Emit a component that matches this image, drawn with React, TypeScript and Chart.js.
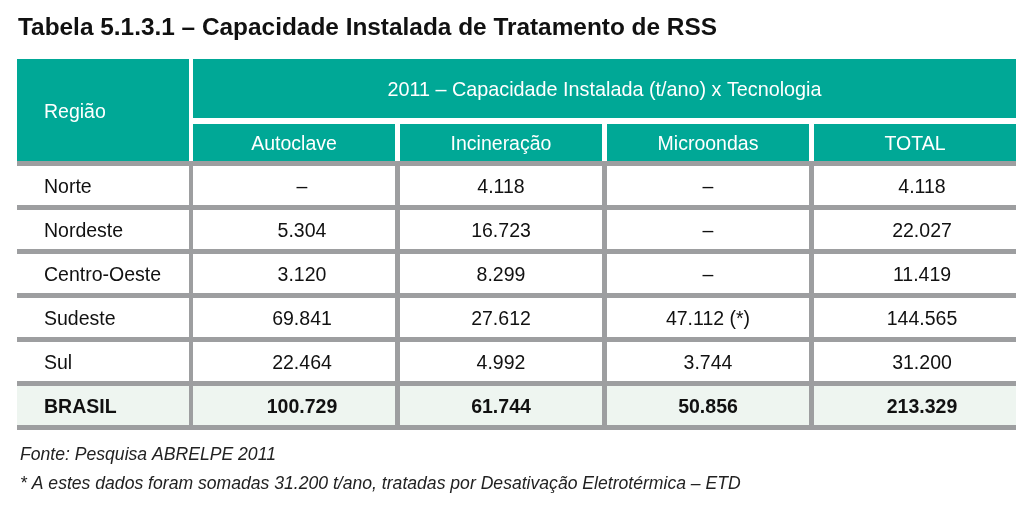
import React, { useEffect, useRef } from 'react';
import { Chart, registerables } from 'chart.js';

Chart.register(...registerables);

// ---------- content ----------
const title = 'Tabela 5.1.3.1 – Capacidade Instalada de Tratamento de RSS';
const groupHeader = '2011 – Capacidade Instalada (t/ano) x Tecnologia';
const regionHeader = 'Região';
const technologies = ['Autoclave', 'Incineração', 'Microondas', 'TOTAL'];
const regions = ['Norte', 'Nordeste', 'Centro-Oeste', 'Sudeste', 'Sul'];
const autoclave: (number | null)[] = [null, 5304, 3120, 69841, 22464];
const incineracao: (number | null)[] = [4118, 16723, 8299, 27612, 4992];
const microondas: (number | null)[] = [null, null, null, 47112, 3744];
const total: (number | null)[] = [4118, 22027, 11419, 144565, 31200];
const microondasNotes = ['', '', '', ' (*)', ''];
const brasilLabel = 'BRASIL';
const brasil = [100729, 61744, 50856, 213329];
const footnotes = [
  'Fonte: Pesquisa ABRELPE 2011',
  '* A estes dados foram somadas 31.200 t/ano, tratadas por Desativação Eletrotérmica – ETD',
];

// ---------- layout (in scale units) ----------
const W = 1016;
const H = 506;
const COLS: [number, number][] = [
  [17, 189],
  [193, 395],
  [400, 602],
  [607, 809],
  [814, 1016],
];
const DATA_CENTERS = [302, 501, 708, 922];
const HEADER_TOP = 59;
const HEADER1_BOTTOM = 118;
const HEADER2_TOP = 124;
const LINE_TOP = 161;
const LINE_W = 5;
const ROW_PITCH = 44;

const TEAL = '#00a896';
const GRAY = '#9d9ea0';
const BRASIL_BG = '#eef5f0';
const FONT = '"Liberation Sans", Arial, Helvetica, sans-serif';

const fmt = (n: number | null) =>
  n === null ? '–' : String(n).replace(/\B(?=(\d{3})+(?!\d))/g, '.');

const tablePlugin = {
  id: 'tablePlugin',
  afterDraw(chart: any) {
    const ctx: CanvasRenderingContext2D = chart.ctx;
    const xs = chart.scales.x;
    const ys = chart.scales.y;
    const px = (v: number) => xs.getPixelForValue(v);
    const py = (v: number) => ys.getPixelForValue(v);
    const rect = (x0: number, y0: number, x1: number, y1: number, color: string) => {
      ctx.fillStyle = color;
      const a = px(x0), b = py(y0), c = px(x1), d = py(y1);
      ctx.fillRect(Math.min(a, c), Math.min(b, d), Math.abs(c - a), Math.abs(d - b));
    };
    const text = (s: string, x: number, y: number, font: string, color: string, align: CanvasTextAlign) => {
      ctx.font = font;
      ctx.fillStyle = color;
      ctx.textAlign = align;
      ctx.textBaseline = 'alphabetic';
      ctx.fillText(s, px(x), py(y));
    };

    ctx.save();
    // Title
    text(title, 18, 35, `bold 24.4px ${FONT}`, '#111', 'left');

    // Header cells
    rect(COLS[0][0], HEADER_TOP, COLS[0][1], LINE_TOP, TEAL);
    rect(COLS[1][0], HEADER_TOP, COLS[4][1], HEADER1_BOTTOM, TEAL);
    for (let i = 1; i < COLS.length; i++) {
      rect(COLS[i][0], HEADER2_TOP, COLS[i][1], LINE_TOP, TEAL);
    }
    const hFont = `19.5px ${FONT}`;
    text(regionHeader, 44, 118, hFont, '#fff', 'left');
    text(groupHeader, (COLS[1][0] + COLS[4][1]) / 2, 96, `19.8px ${FONT}`, '#fff', 'center');
    technologies.forEach((t, i) => {
      const c = COLS[i + 1];
      text(t, (c[0] + c[1]) / 2, 150, hFont, '#fff', 'center');
    });

    // Brasil row background
    const nRows = regions.length + 1;
    const brasilTop = LINE_TOP + ROW_PITCH * regions.length + LINE_W;
    rect(COLS[0][0], brasilTop, COLS[4][1], brasilTop + ROW_PITCH - LINE_W, BRASIL_BG);

    // Grid lines
    for (let i = 0; i <= nRows; i++) {
      const y0 = LINE_TOP + ROW_PITCH * i;
      rect(COLS[0][0], y0, COLS[4][1], y0 + LINE_W, GRAY);
    }
    const bottom = LINE_TOP + ROW_PITCH * nRows + LINE_W;
    for (let i = 0; i < COLS.length - 1; i++) {
      rect(COLS[i][1], LINE_TOP, COLS[i + 1][0], bottom, GRAY);
    }

    // Body
    const bFont = `19.5px ${FONT}`;
    const columns = [autoclave, incineracao, microondas, total];
    regions.forEach((r, ri) => {
      const base = LINE_TOP + ROW_PITCH * ri + LINE_W + (ROW_PITCH - LINE_W) / 2 + 7;
      text(r, 44, base, bFont, '#111', 'left');
      columns.forEach((col, ci) => {
        let s = fmt(col[ri]);
        if (ci === 2 && col[ri] !== null) s += microondasNotes[ri];
        text(s, DATA_CENTERS[ci], base, bFont, '#111', 'center');
      });
    });
    const bBase = brasilTop + (ROW_PITCH - LINE_W) / 2 + 7;
    const boldFont = `bold 19.5px ${FONT}`;
    text(brasilLabel, 44, bBase, boldFont, '#111', 'left');
    brasil.forEach((v, ci) => text(fmt(v), DATA_CENTERS[ci], bBase, boldFont, '#111', 'center'));

    // Footnotes
    const fFont = `italic 17.6px ${FONT}`;
    text(footnotes[0], 20, 460, fFont, '#222', 'left');
    text(footnotes[1], 20, 489, fFont, '#222', 'left');
    ctx.restore();
  },
};

export default function App() {
  const ref = useRef<HTMLCanvasElement | null>(null);
  useEffect(() => {
    if (!ref.current) return;
    const chart = new Chart(ref.current, {
      type: 'scatter',
      data: { datasets: [{ data: [] }] },
      options: {
        animation: false,
        responsive: false,
        maintainAspectRatio: false,
        devicePixelRatio: 1,
        layout: { padding: 0 },
        events: [],
        plugins: { legend: { display: false }, tooltip: { enabled: false }, title: { display: false } },
        scales: {
          x: { type: 'linear', min: 0, max: W, display: false },
          y: { type: 'linear', min: 0, max: H, reverse: true, display: false },
        },
      },
      plugins: [tablePlugin],
    });
    return () => chart.destroy();
  }, []);
  return (
    <div style={{ position: 'absolute', left: 0, top: 0, width: W, height: H, background: '#fff' }}>
      <canvas ref={ref} width={W} height={H} style={{ width: W, height: H, display: 'block' }} />
    </div>
  );
}
